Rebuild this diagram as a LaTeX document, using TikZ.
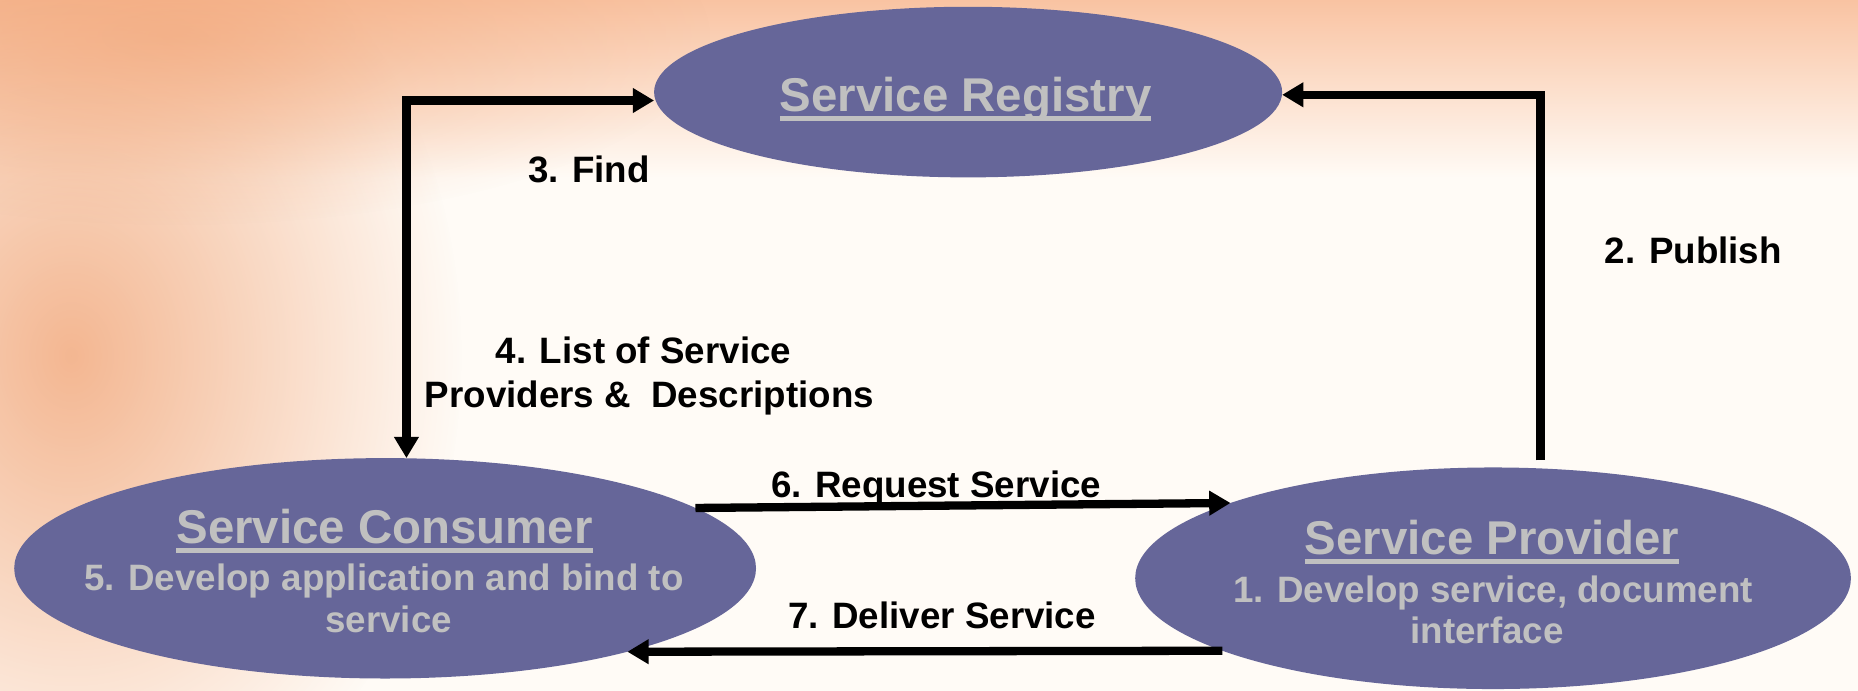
\documentclass[tikz,border=0pt]{standalone}
\usepackage{fontspec}
\setmainfont{Liberation Sans}
\newsavebox{\mybx}
\newcommand{\myul}[1]{\sbox{\mybx}{#1}\rlap{\rule[-8pt]{\wd\mybx}{4pt}}\usebox{\mybx}}
\usetikzlibrary{arrows.meta,fadings,calc,shapes.geometric}
\definecolor{ellfill}{HTML}{666699}
\definecolor{elltext}{HTML}{C0C0C0}
\definecolor{bgcol}{HTML}{FFFBF6}
\definecolor{peach}{HTML}{F9C3A2}
\definecolor{skin}{HTML}{F0A070}
\tikzfading[name=softblob, inner color=transparent!0, outer color=transparent!100]
\begin{document}
\begin{tikzpicture}[x=1pt,y=-1pt,
 ell/.style={ellipse, fill=ellfill, inner sep=0pt, outer sep=0pt},
 ttl/.style={text=elltext, font=\fontsize{40}{40}\selectfont\bfseries, anchor=base, inner sep=0pt},
 bdy/.style={text=elltext, font=\fontsize{31}{31}\selectfont\bfseries, anchor=base, inner sep=0pt},
 lbl/.style={text=black, font=\fontsize{31}{31}\selectfont\bfseries, anchor=base, inner sep=0pt},
 arr/.style={line width=7pt, -{Triangle[length=18pt,width=20pt]}},
 arrboth/.style={line width=7pt, {Triangle[length=18pt,width=20pt]}-{Triangle[length=18pt,width=20pt]}},
]
\useasboundingbox (0,0) rectangle (1568,583);
\begin{scope}
\clip (0,0) rectangle (1568,583);
\fill[bgcol] (0,0) rectangle (1568,583);
\shade[top color=peach, bottom color=bgcol] (0,0) rectangle (1568,150);
\fill[skin, opacity=0.75, path fading=softblob] (60,300) ellipse [x radius=330, y radius=420];
\fill[skin, opacity=0.5, path fading=softblob] (150,30) ellipse [x radius=450, y radius=160];
\end{scope}

% ellipses
\node[ell, minimum width=530pt, minimum height=144pt] (registry) at (817,77.7) {};
\node[ell, minimum width=626pt, minimum height=186pt] (consumer) at (325,479.6) {};
\node[ell, minimum width=604pt, minimum height=187pt] (provider) at (1260,488) {};

% ellipse texts
\node[ttl] (registryT) at (815,94) {\myul{Service Registry}};
\node[ttl] (consumerT) at (324.5,458.6) {\myul{Service Consumer}};
\node[bdy] (consumerB1) at (324,498) {5. Develop application and bind to};
\node[bdy] (consumerB2) at (328,533.5) {service};
\node[ttl] (providerT) at (1259,468) {\myul{Service Provider}};
\node[bdy] (providerB1) at (1260,508.6) {1. Develop service, document};
\node[bdy] (providerB2) at (1255,543) {interface};

% connectors
\coordinate (findC) at (343,84.8);
\draw[arrboth] (findC |- consumer.north) -- (findC) -- (findC -| registry.west);
\coordinate (pubC) at (1300,80);
\draw[arr] ($(pubC |- provider.north)+(0,-6)$) -- (pubC) -- (pubC -| registry.east);
\draw[arr] (consumer.11) -- (provider.164);
\draw[arr] (provider.195) -- (consumer.-19);

% labels
\node[lbl] (find) at (497,154) {3. Find};
\node[lbl] (publish) at (1429,222) {2. Publish};
\node[lbl] (list1) at (543,307) {4. List of Service};
\node[lbl] (list2) at (548,344) {Providers \&\ \ Descriptions};
\node[lbl] (request) at (790,420) {6. Request Service};
\node[lbl] (deliver) at (795,530) {7. Deliver Service};
\end{tikzpicture}
\end{document}
